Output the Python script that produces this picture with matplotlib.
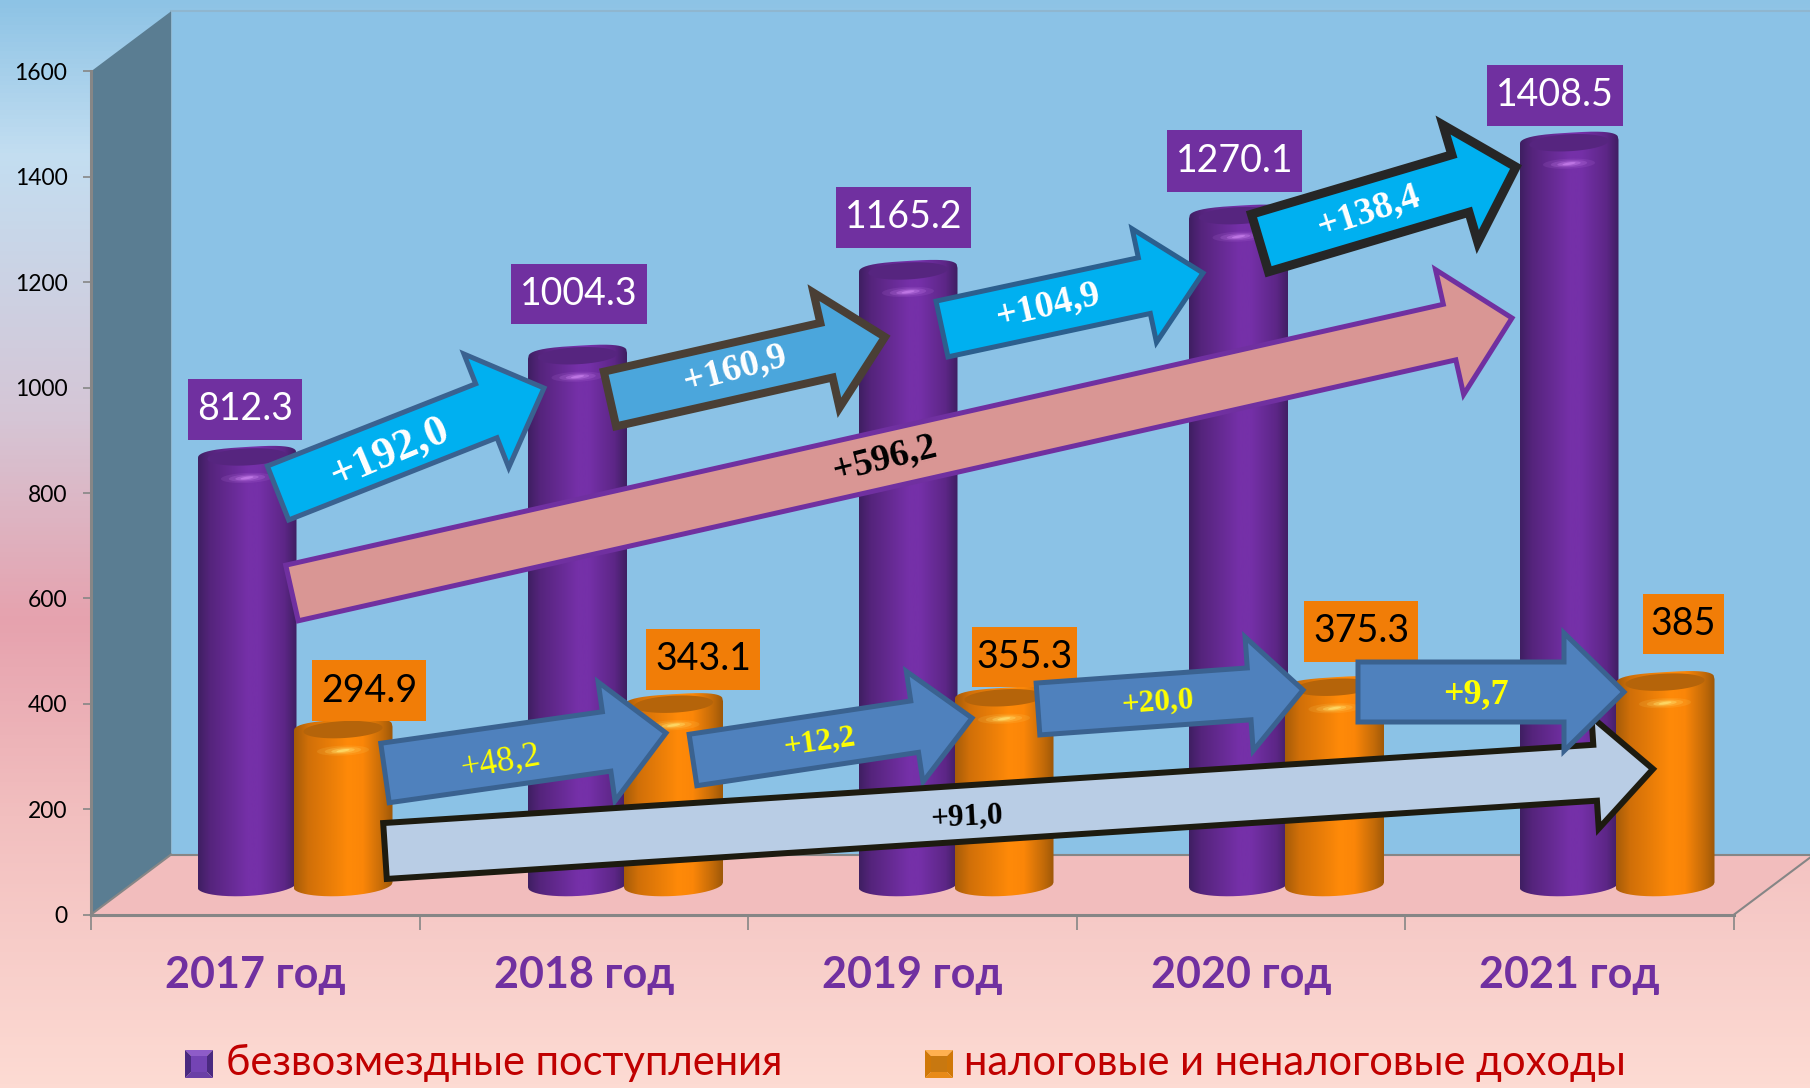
import numpy as np
import matplotlib
matplotlib.use("Agg")
import matplotlib.pyplot as plt
from matplotlib.colors import LinearSegmentedColormap
from matplotlib.patches import Polygon, Rectangle, PathPatch
from matplotlib.path import Path
from matplotlib.transforms import Affine2D, IdentityTransform

plt.rcParams['font.family'] = ['Lato', 'Open Sans', 'DejaVu Sans']

# dados
anos = ["2017 год", "2018 год", "2019 год", "2020 год", "2021 год"]
bezvozmezdnye = [812.3, 1004.3, 1165.2, 1270.1, 1408.5]
nalogovye = [294.9, 343.1, 355.3, 375.3, 385]
y_ticks = [0, 200, 400, 600, 800, 1000, 1200, 1400, 1600]
legenda = ["безвозмездные поступления", "налоговые и неналоговые доходы"]
delta_roxo = ["+192,0", "+160,9", "+104,9", "+138,4"]
delta_laranja = ["+48,2", "+12,2", "+20,0", "+9,7"]
delta_total_roxo = "+596,2"
delta_total_laranja = "+91,0"

W, H = 1810, 1088
ROXO = "#7030A0"
LARANJA = "#F17D07"
CINZA = "#868686"

fig = plt.figure(figsize=(W / 100, H / 100), dpi=100)


def caixa(x0, y_topo, x1, y_base):
    return [x0 / W, 1 - y_base / H, (x1 - x0) / W, (y_base - y_topo) / H]


# fundo da figura
fundo = fig.add_axes([0, 0, 1, 1], zorder=0)
cmap_fundo = LinearSegmentedColormap.from_list("fundo", [
    (0.0, "#8DC3E5"), (0.14, "#C3DEF1"), (0.38, "#D5C6D6"),
    (0.57, "#E6A2AE"), (0.75, "#F2BFBF"), (1.0, "#FDDBD3")])
fundo.imshow(np.linspace(0, 1, 256)[:, None], cmap=cmap_fundo, aspect="auto")
fundo.axis("off")

# eixo principal
ax = fig.add_axes(caixa(91, 71.4, 1734, 914.6), zorder=1)
ax.patch.set_alpha(0)
ax.set_xlim(0, 5)
ax.set_ylim(0, 1600)
for lado in ["top", "right"]:
    ax.spines[lado].set_visible(False)
for lado in ["left", "bottom"]:
    ax.spines[lado].set_color(CINZA)
    ax.spines[lado].set_linewidth(2.2)
ax.set_yticks(y_ticks)
ax.tick_params(axis="y", length=6, width=1.2, color=CINZA, pad=11, labelsize=16.5)
ax.set_xticks(range(6))
ax.set_xticklabels([])
ax.tick_params(axis="x", length=11, width=1.2, color=CINZA)
ax.set_xticks(np.arange(5) + 0.5, minor=True)
ax.set_xticklabels(anos, minor=True, fontsize=31, fontweight="bold", color=ROXO)
ax.tick_params(axis="x", which="minor", length=0, pad=29)

# paredes e piso em "3D"
fundo_tr = ax.transData + Affine2D().translate(80, 60)
frente = ax.transData.transform([(0, 0), (5, 0), (0, 1600)])
atras = fundo_tr.transform([(0, 0), (5, 0), (0, 1600)])
ax.add_patch(Rectangle((0, 0), 5, 1600, transform=fundo_tr, fc="#8BC2E6",
                       ec="#8FB6CF", lw=1.5, clip_on=False, zorder=0))
ax.add_patch(Polygon([frente[0], frente[1], atras[1], atras[0]], transform=IdentityTransform(),
                     fc="#F2BDBD", ec="none", clip_on=False, zorder=1))
ax.add_patch(Polygon([frente[0], frente[2], atras[2], atras[0]], transform=IdentityTransform(),
                     fc="#5A7D92", ec="none", clip_on=False, zorder=1))
ax.plot(*zip(atras[0], atras[1]), transform=IdentityTransform(), color=CINZA, lw=1.5,
        clip_on=False, zorder=2)
ax.plot(*zip(frente[1], atras[1]), transform=IdentityTransform(), color=CINZA, lw=1.5,
        clip_on=False, zorder=2)
ax.plot(*zip(frente[0], atras[0]), transform=IdentityTransform(), color=CINZA, lw=1.5,
        clip_on=False, zorder=2)

# eixo das colunas (plano no meio da profundidade)
PX_X = 330.5
PX_Y = 843.2 / 1600
ax_col = fig.add_axes(caixa(295 - PX_X / 2, 885 - 1600 * PX_Y, 1617 + PX_X / 2, 885 + 60 * PX_Y),
                      zorder=2)
ax_col.set_xlim(-0.5, 4.5)
ax_col.set_ylim(-60, 1600)
ax_col.axis("off")

cmap_roxo = LinearSegmentedColormap.from_list("r", [
    (0, "#3F1F62"), (0.12, "#55247C"), (0.5, "#7530A8"), (0.62, "#7530A8"),
    (0.88, "#5C2686"), (1, "#3F1F62")])
cmap_laranja = LinearSegmentedColormap.from_list("l", [
    (0, "#A65C08"), (0.14, "#D06F08"), (0.55, "#FF8A08"), (0.7, "#FB8608"),
    (0.9, "#C26A08"), (1, "#9E5808")])


def elipse(xc, yc, a, b, incl=0.0):
    ang = np.linspace(0, 2 * np.pi, 80)
    xs = a * np.cos(ang)
    ys = b * np.sin(ang) + incl * np.cos(ang)
    return np.column_stack([xc + xs / PX_X, yc + ys / PX_Y])


def coluna(xc, valor, largura_px, cmap, cor_tampa, cor_brilho):
    a = largura_px / 2 / PX_X
    t = np.linspace(-1, 1, 120)
    x = xc + t * a
    topo = valor + (10 * (1 - np.abs(t) ** 3) ** (1 / 3) + 3 * t) / PX_Y
    base = (-11 * np.sqrt(1 - t ** 2) + 2.5 * t) / PX_Y
    vertices = np.vstack([np.column_stack([x, base]), np.column_stack([x[::-1], topo[::-1]])])
    contorno = PathPatch(Path(np.vstack([vertices, vertices[0]])), transform=ax_col.transData,
                         fc="none", ec="none")
    ax_col.add_patch(contorno)
    im = ax_col.imshow(np.linspace(0, 1, 128)[None, :], cmap=cmap, aspect="auto",
                       extent=(xc - a, xc + a, -60, valor + 40))
    im.set_clip_path(contorno)
    # tampa superior
    ax_col.add_patch(Polygon(elipse(xc, valor, largura_px * 0.40, 8.5, 2), fc=cor_tampa, ec="none"))
    # brilho
    for k, alfa in zip([1.0, 0.7, 0.45, 0.25], [0.12, 0.2, 0.35, 0.6]):
        ax_col.add_patch(Polygon(elipse(xc, valor - 21 / PX_Y, 26 * k, 5 * k, 1), fc=cor_brilho,
                                 ec="none", alpha=alfa))


LARG = 99
for i in range(len(anos)):
    coluna(i - 48 / PX_X, bezvozmezdnye[i], LARG, cmap_roxo, "#56257F", "#CF86F2")
    coluna(i + 48 / PX_X, nalogovye[i], LARG, cmap_laranja, "#B5640A", "#FFE878")
ax_col.set_xlim(-0.5, 4.5)
ax_col.set_ylim(-60, 1600)

# camada de anotacoes em pixels
cam = fig.add_axes([0, 0, 1, 1], zorder=3)
cam.set_xlim(0, W)
cam.set_ylim(H, 0)
cam.axis("off")

# rotulos de valor
caixas_roxo = [(188, 379, 302, 440), (511, 264, 647, 324), (836, 187, 971, 248),
               (1167, 130, 1302, 192), (1487, 65, 1623, 126)]
caixas_laranja = [(312, 660, 426, 721), (646, 629, 760, 690), (972, 627, 1077, 687),
                  (1304, 601, 1418, 662), (1643, 594, 1724, 654)]


def rotulo(box, valor, cor, cor_txt):
    x0, y0, x1, y1 = box
    cam.add_patch(Rectangle((x0, y0), x1 - x0, y1 - y0, fc=cor, ec="none", zorder=1))
    cam.text((x0 + x1) / 2, (y0 + y1) / 2, f"{valor:g}", color=cor_txt, fontsize=27,
             ha="center", va="center", zorder=1)


for box, v in zip(caixas_roxo, bezvozmezdnye):
    rotulo(box, v, ROXO, "white")
for box, v in zip(caixas_laranja, nalogovye):
    rotulo(box, v, LARANJA, "black")


def seta(cauda, ponta, larg, larg_cab, comp_cab, fc, ec, lw_px, z):
    cauda = np.array(cauda, float)
    ponta = np.array(ponta, float)
    d = ponta - cauda
    d = d / np.hypot(*d)
    n = np.array([-d[1], d[0]])
    base = ponta - d * comp_cab
    pts = [cauda + n * larg / 2, base + n * larg / 2, base + n * larg_cab / 2, ponta,
           base - n * larg_cab / 2, base - n * larg / 2, cauda - n * larg / 2]
    cam.add_patch(Polygon(pts, closed=True, fc=fc, ec=ec, lw=lw_px * 0.72, joinstyle="miter",
                          zorder=z))


def texto_seta(x, y, txt, tam, ang, cor, peso, z):
    cam.text(x, y, txt, fontsize=tam, rotation=ang, color=cor, fontweight=peso,
             family="Liberation Serif", ha="center", va="center",
             rotation_mode="anchor", zorder=z)


AZUL = "#00B0F0"
BORDA = "#3A6290"
ACO = "#4F81BD"

seta((278, 493), (544, 388), 58, 122, 62, AZUL, BORDA, 5, 2)
texto_seta(390, 452, delta_roxo[0], 32, 23, "white", "bold", 2)
seta((610, 399), (885, 337), 56, 118, 60, "#4BA6DC", "#4A3F35", 8, 2)
texto_seta(735, 369, delta_roxo[1], 27, 15, "white", "bold", 2)
seta((942, 329), (1203, 273), 57, 116, 60, AZUL, "#2C5F8E", 5, 2)
texto_seta(1048, 306, delta_roxo[2], 27, 13, "white", "bold", 2)
seta((1260, 243), (1516, 167), 60, 122, 58, AZUL, "#262626", 9, 3)
texto_seta(1369, 211, delta_roxo[3], 27, 18, "white", "bold", 3)
seta((292, 593), (1512, 318), 57, 128, 64, "#D99694", ROXO, 5, 1.5)
texto_seta(885, 459, delta_total_roxo, 27, 14, "black", "bold", 2)

seta((385, 773), (666, 733), 60, 120, 60, ACO, BORDA, 5, 2)
texto_seta(500, 762, delta_laranja[0], 25, 10, "#FFFF00", "normal", 2)
seta((693, 760), (972, 718), 52, 112, 58, ACO, BORDA, 5, 2)
texto_seta(820, 742, delta_laranja[1], 22.5, 8, "#FFFF00", "bold", 2)
seta((385, 851), (1653, 769), 56, 112, 58, "#B9CDE5", "#1D1B10", 6, 3)
texto_seta(967, 817, delta_total_laranja, 22.5, 3, "black", "bold", 3)
seta((1038, 709), (1303, 690), 52, 114, 54, ACO, BORDA, 5, 4)
texto_seta(1158, 702, delta_laranja[2], 22.5, 4, "#FFFF00", "bold", 4)
seta((1358, 692), (1624, 692), 60, 118, 60, ACO, BORDA, 5, 4)
texto_seta(1476, 695, delta_laranja[3], 26, 0, "#FFFF00", "bold", 4)


# legenda
def quadrado(x, y, lado, cores):
    m = lado * 0.22
    ext = [(x, y), (x + lado, y), (x + lado, y + lado), (x, y + lado)]
    inn = [(x + m, y + m), (x + lado - m, y + m), (x + lado - m, y + lado - m), (x + m, y + lado - m)]
    for j, cor in enumerate(cores[:4]):
        k = (j + 1) % 4
        cam.add_patch(Polygon([ext[j], ext[k], inn[k], inn[j]], fc=cor, ec="none"))
    cam.add_patch(Polygon(inn, fc=cores[4], ec="none"))


quadrado(185, 1050, 28, ["#8E5CC8", "#4A2A80", "#6A3FA6", "#4A2A80", "#7444B4"])
quadrado(925, 1050, 28, ["#FFB050", "#D07808", "#E88A18", "#D07808", "#C87810"])
cam.text(226, 1063, legenda[0], color="#C00000", fontsize=30, ha="left", va="center")
cam.text(964, 1063, legenda[1], color="#C00000", fontsize=30, ha="left", va="center")

fig.savefig("out.png", dpi=100)
